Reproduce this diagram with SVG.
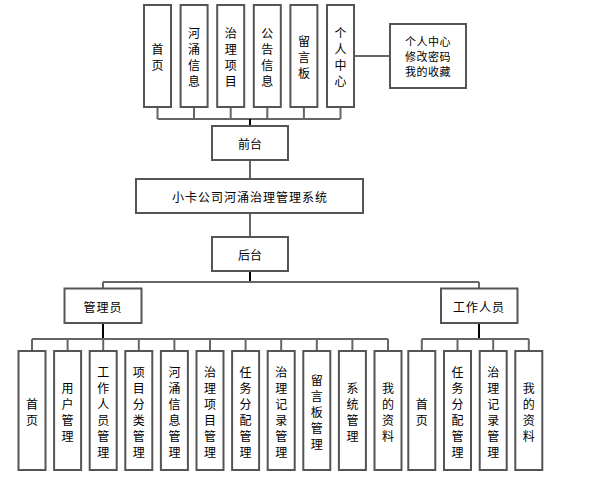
<svg xmlns="http://www.w3.org/2000/svg" width="615" height="477" viewBox="0 0 615 477">
<style>
.b{fill:#fff;stroke:#555;stroke-width:2}
.l{fill:none;stroke:#666;stroke-width:2}
.t{stroke:#000;stroke-width:2}
text{font-family:"Noto Sans CJK SC","Liberation Sans",sans-serif;font-size:12px;fill:#000;text-anchor:middle;dominant-baseline:central}
.s{font-size:11px;letter-spacing:0.5px}
</style>
<rect width="615" height="477" fill="#fff"/>
<g id="connectors">
<path class="l" d="M157.5 107V119M194 107V119M230.7 107V119M267.3 107V119M303.9 107V119M340.5 107V119M157.5 119H340.5"/>
<path class="l" d="M353 56H390"/>
<path class="t" d="M250 119V126"/>
<path class="l" d="M250 160V179M250 213V237"/>
<path class="t" d="M250 271V282"/>
<path class="l" d="M103 282H479M103 282V288M479 282V288"/>
<path class="t" d="M103 323V339M479 323V339"/>
<path class="l" d="M32 339H388M32 339V351M67.6 339V351M103.2 339V351M138.8 339V351M174.4 339V351M210 339V351M245.6 339V351M281.2 339V351M316.8 339V351M352.4 339V351M388 339V351"/>
<path class="l" d="M421.8 339H528.8M421.8 339V351M457.5 339V351M493.2 339V351M528.8 339V351"/>
</g>
<g id="n-fp-home"><rect class="b" x="144" y="5" width="27" height="102"/><text><tspan x="157.5" y="48">首</tspan><tspan x="157.5" y="64">页</tspan></text></g>
<g id="n-fp-river"><rect class="b" x="180.6" y="5" width="27" height="102"/><text><tspan x="194.1" y="32">河</tspan><tspan x="194.1" y="48">涌</tspan><tspan x="194.1" y="64">信</tspan><tspan x="194.1" y="80">息</tspan></text></g>
<g id="n-fp-project"><rect class="b" x="217.2" y="5" width="27" height="102"/><text><tspan x="230.7" y="32">治</tspan><tspan x="230.7" y="48">理</tspan><tspan x="230.7" y="64">项</tspan><tspan x="230.7" y="80">目</tspan></text></g>
<g id="n-fp-notice"><rect class="b" x="253.8" y="5" width="27" height="102"/><text><tspan x="267.3" y="32">公</tspan><tspan x="267.3" y="48">告</tspan><tspan x="267.3" y="64">信</tspan><tspan x="267.3" y="80">息</tspan></text></g>
<g id="n-fp-board"><rect class="b" x="290.4" y="5" width="27" height="102"/><text><tspan x="303.9" y="40">留</tspan><tspan x="303.9" y="56">言</tspan><tspan x="303.9" y="72">板</tspan></text></g>
<g id="n-fp-center"><rect class="b" x="327" y="5" width="27" height="102"/><text><tspan x="340.5" y="32">个</tspan><tspan x="340.5" y="48">人</tspan><tspan x="340.5" y="64">中</tspan><tspan x="340.5" y="80">心</tspan></text></g>
<g id="n-center-detail"><rect class="b" x="390" y="24" width="76" height="64"/><text class="s"><tspan x="428" y="41">个人中心</tspan><tspan x="428" y="56">修改密码</tspan><tspan x="428" y="71">我的收藏</tspan></text></g>
<g id="n-front"><rect class="b" x="212" y="126" width="76" height="34"/><text x="250" y="143">前台</text></g>
<g id="n-system"><rect class="b" x="136" y="179" width="227" height="34"/><text x="250" y="196" letter-spacing="1">小卡公司河涌治理管理系统</text></g>
<g id="n-back"><rect class="b" x="212" y="237" width="76" height="34"/><text x="250" y="254">后台</text></g>
<g id="n-admin"><rect class="b" x="64.5" y="288.5" width="77" height="34.5"/><text x="103" y="306" letter-spacing="1">管理员</text></g>
<g id="n-worker"><rect class="b" x="441" y="288.5" width="76.5" height="34.5"/><text x="479" y="306" letter-spacing="1">工作人员</text></g>
<g id="n-a1"><rect class="b" x="18.5" y="351" width="27" height="119"/><text><tspan x="32" y="402.5">首</tspan><tspan x="32" y="418.5">页</tspan></text></g>
<g id="n-a2"><rect class="b" x="54.1" y="351" width="27" height="119"/><text><tspan x="67.6" y="386.5">用</tspan><tspan x="67.6" y="402.5">户</tspan><tspan x="67.6" y="418.5">管</tspan><tspan x="67.6" y="434.5">理</tspan></text></g>
<g id="n-a3"><rect class="b" x="89.7" y="351" width="27" height="119"/><text><tspan x="103.2" y="370.5">工</tspan><tspan x="103.2" y="386.5">作</tspan><tspan x="103.2" y="402.5">人</tspan><tspan x="103.2" y="418.5">员</tspan><tspan x="103.2" y="434.5">管</tspan><tspan x="103.2" y="450.5">理</tspan></text></g>
<g id="n-a4"><rect class="b" x="125.3" y="351" width="27" height="119"/><text><tspan x="138.8" y="370.5">项</tspan><tspan x="138.8" y="386.5">目</tspan><tspan x="138.8" y="402.5">分</tspan><tspan x="138.8" y="418.5">类</tspan><tspan x="138.8" y="434.5">管</tspan><tspan x="138.8" y="450.5">理</tspan></text></g>
<g id="n-a5"><rect class="b" x="160.9" y="351" width="27" height="119"/><text><tspan x="174.4" y="370.5">河</tspan><tspan x="174.4" y="386.5">涌</tspan><tspan x="174.4" y="402.5">信</tspan><tspan x="174.4" y="418.5">息</tspan><tspan x="174.4" y="434.5">管</tspan><tspan x="174.4" y="450.5">理</tspan></text></g>
<g id="n-a6"><rect class="b" x="196.5" y="351" width="27" height="119"/><text><tspan x="210" y="370.5">治</tspan><tspan x="210" y="386.5">理</tspan><tspan x="210" y="402.5">项</tspan><tspan x="210" y="418.5">目</tspan><tspan x="210" y="434.5">管</tspan><tspan x="210" y="450.5">理</tspan></text></g>
<g id="n-a7"><rect class="b" x="232.1" y="351" width="27" height="119"/><text><tspan x="245.6" y="370.5">任</tspan><tspan x="245.6" y="386.5">务</tspan><tspan x="245.6" y="402.5">分</tspan><tspan x="245.6" y="418.5">配</tspan><tspan x="245.6" y="434.5">管</tspan><tspan x="245.6" y="450.5">理</tspan></text></g>
<g id="n-a8"><rect class="b" x="267.7" y="351" width="27" height="119"/><text><tspan x="281.2" y="370.5">治</tspan><tspan x="281.2" y="386.5">理</tspan><tspan x="281.2" y="402.5">记</tspan><tspan x="281.2" y="418.5">录</tspan><tspan x="281.2" y="434.5">管</tspan><tspan x="281.2" y="450.5">理</tspan></text></g>
<g id="n-a9"><rect class="b" x="303.3" y="351" width="27" height="119"/><text><tspan x="316.8" y="378.5">留</tspan><tspan x="316.8" y="394.5">言</tspan><tspan x="316.8" y="410.5">板</tspan><tspan x="316.8" y="426.5">管</tspan><tspan x="316.8" y="442.5">理</tspan></text></g>
<g id="n-a10"><rect class="b" x="338.9" y="351" width="27" height="119"/><text><tspan x="352.4" y="386.5">系</tspan><tspan x="352.4" y="402.5">统</tspan><tspan x="352.4" y="418.5">管</tspan><tspan x="352.4" y="434.5">理</tspan></text></g>
<g id="n-a11"><rect class="b" x="374.5" y="351" width="27" height="119"/><text><tspan x="388" y="386.5">我</tspan><tspan x="388" y="402.5">的</tspan><tspan x="388" y="418.5">资</tspan><tspan x="388" y="434.5">料</tspan></text></g>
<g id="n-w1"><rect class="b" x="408.3" y="351" width="27" height="119"/><text><tspan x="421.8" y="402.5">首</tspan><tspan x="421.8" y="418.5">页</tspan></text></g>
<g id="n-w2"><rect class="b" x="444" y="351" width="27" height="119"/><text><tspan x="457.5" y="370.5">任</tspan><tspan x="457.5" y="386.5">务</tspan><tspan x="457.5" y="402.5">分</tspan><tspan x="457.5" y="418.5">配</tspan><tspan x="457.5" y="434.5">管</tspan><tspan x="457.5" y="450.5">理</tspan></text></g>
<g id="n-w3"><rect class="b" x="479.7" y="351" width="27" height="119"/><text><tspan x="493.2" y="370.5">治</tspan><tspan x="493.2" y="386.5">理</tspan><tspan x="493.2" y="402.5">记</tspan><tspan x="493.2" y="418.5">录</tspan><tspan x="493.2" y="434.5">管</tspan><tspan x="493.2" y="450.5">理</tspan></text></g>
<g id="n-w4"><rect class="b" x="515.3" y="351" width="27" height="119"/><text><tspan x="528.8" y="386.5">我</tspan><tspan x="528.8" y="402.5">的</tspan><tspan x="528.8" y="418.5">资</tspan><tspan x="528.8" y="434.5">料</tspan></text></g>
</svg>
